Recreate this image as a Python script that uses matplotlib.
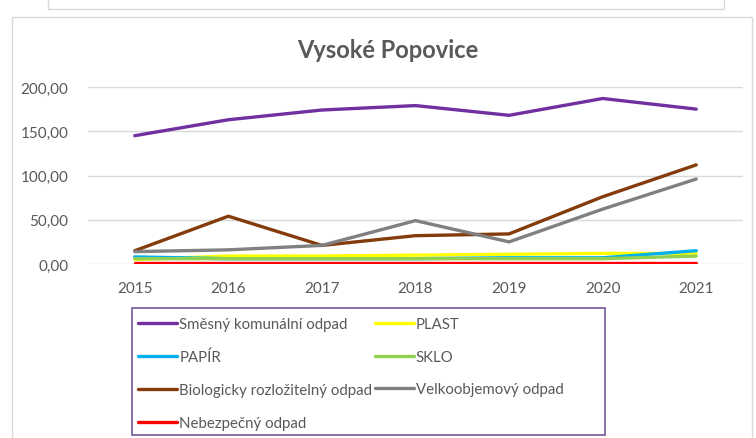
import matplotlib
matplotlib.use('agg')
import matplotlib.pyplot as plt
from matplotlib.patches import Rectangle

years = ['2015', '2016', '2017', '2018', '2019', '2020', '2021']
smesny = [145, 163, 174, 179, 168, 187, 175]
plast = [5, 9, 9, 10, 11, 12, 12]
papir = [8, 6, 6, 6, 7, 7, 15]
sklo = [6, 6, 6, 6, 6, 6, 9]
bio = [15, 54, 21, 32, 34, 76, 112]
velko = [14, 16, 21, 49, 25, 62, 96]
nebezp = [1, 1, 1, 1, 1, 1, 1]

series = [
    ('Směsný komunální odpad', smesny, '#7030A0'),
    ('PLAST', plast, '#FFFF00'),
    ('PAPÍR', papir, '#00B0F0'),
    ('SKLO', sklo, '#92D050'),
    ('Biologicky rozložitelný odpad', bio, '#843C0C'),
    ('Velkoobjemový odpad', velko, '#808080'),
    ('Nebezpečný odpad', nebezp, '#FF0000'),
]

plt.rcParams['font.family'] = ['Lato', 'DejaVu Sans']
W, H = 756, 439
fig = plt.figure(figsize=(W / 100, H / 100), dpi=100)

# outer frames (chart border and the neighbouring box above)
fig.patches.append(Rectangle((48 / W, 1 - 10 / H), 676 / W, 20 / H, transform=fig.transFigure,
                             fill=False, edgecolor='#D9D9D9', lw=1))
fig.patches.append(Rectangle((12 / W, -0.1), 740 / W, 1 - 18 / H + 0.1, transform=fig.transFigure,
                             fill=False, edgecolor='#D9D9D9', lw=1))
# legend box
fig.patches.append(Rectangle((132 / W, 1 - 436 / H), 473 / W, 127 / H, transform=fig.transFigure,
                             fill=False, edgecolor='#8064A2', lw=1.3))

ax = fig.add_axes([88 / W, 1 - 265 / H, 655 / W, (265 - 88) / H])
x = list(range(len(years)))
handles = {}
for name, vals, col in series:
    ln, = ax.plot(x, vals, color=col, lw=2.4, solid_capstyle='round', label=name)
    handles[name] = ln

ax.set_xlim(-0.5, 6.5)
ax.set_ylim(0, 200)
ax.set_yticks([0, 50, 100, 150, 200])
ax.set_yticklabels(['0,00', '50,00', '100,00', '150,00', '200,00'])
ax.set_xticks(x)
ax.set_xticklabels(years)
ax.grid(axis='y', color='#D9D9D9', lw=1)
ax.set_axisbelow(True)
for s in ax.spines.values():
    s.set_visible(False)
ax.tick_params(length=0, labelsize=11, colors='#595959', pad=14)
ax.tick_params(axis='x', pad=12)

fig.text(388 / W, 1 - 50 / H, 'Vysoké Popovice', ha='center', va='center',
         fontsize=17, fontweight='bold', color='#595959')

order = ['Směsný komunální odpad', 'PAPÍR', 'Biologicky rozložitelný odpad', 'Nebezpečný odpad',
         'PLAST', 'SKLO', 'Velkoobjemový odpad']
leg = fig.legend([handles[n] for n in order], order, ncol=2, loc='upper left',
                 bbox_to_anchor=(135 / W, 1 - 315 / H), frameon=False,
                 fontsize=10.8, handlelength=2.6, handletextpad=0.15, columnspacing=0.15,
                 labelspacing=1.25, borderpad=0.2, borderaxespad=0)
for t in leg.get_texts():
    t.set_color('#595959')

fig.savefig('out.png', dpi=100)
